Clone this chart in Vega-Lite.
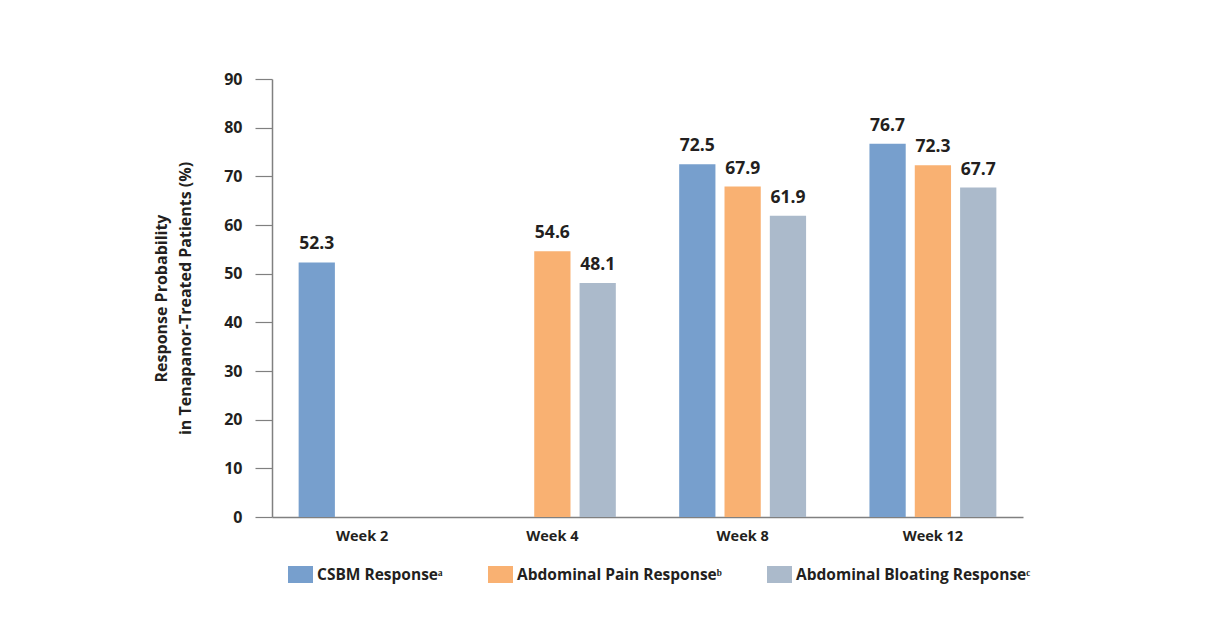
{
  "$schema": "https://vega.github.io/schema/vega-lite/v6.json",
  "width": 751,
  "height": 438,
  "autosize": {"type": "none"},
  "padding": {"left": 272, "top": 79, "right": 207, "bottom": 127},
  "background": "white",
  "config": {
    "font": "Open Sans",
    "view": {"stroke": null}
  },
  "data": {
    "values": [
      {"week": "Week 2", "measure": "CSBM Responseᵃ", "value": 52.3},
      {"week": "Week 4", "measure": "Abdominal Pain Responseᵇ", "value": 54.6},
      {"week": "Week 4", "measure": "Abdominal Bloating Responseᶜ", "value": 48.1},
      {"week": "Week 8", "measure": "CSBM Responseᵃ", "value": 72.5},
      {"week": "Week 8", "measure": "Abdominal Pain Responseᵇ", "value": 67.9},
      {"week": "Week 8", "measure": "Abdominal Bloating Responseᶜ", "value": 61.9},
      {"week": "Week 12", "measure": "CSBM Responseᵃ", "value": 76.7},
      {"week": "Week 12", "measure": "Abdominal Pain Responseᵇ", "value": 72.3},
      {"week": "Week 12", "measure": "Abdominal Bloating Responseᶜ", "value": 67.7}
    ]
  },
  "encoding": {
    "x": {
      "field": "week",
      "type": "nominal",
      "sort": ["Week 2", "Week 4", "Week 8", "Week 12"],
      "scale": {"paddingInner": 0.333, "paddingOuter": 0.14},
      "axis": {
        "title": null,
        "labelAngle": 0,
        "ticks": false,
        "labelFontSize": 14.5,
        "labelFontWeight": "bold",
        "labelColor": "#231f20",
        "labelPadding": 12,
        "domainColor": "#808080",
        "domainWidth": 1.5
      }
    },
    "xOffset": {
      "field": "measure",
      "type": "nominal",
      "scale": {
        "domain": ["CSBM Responseᵃ", "Abdominal Pain Responseᵇ", "Abdominal Bloating Responseᶜ"],
        "paddingInner": 0.2,
        "paddingOuter": 0
      }
    },
    "y": {
      "field": "value",
      "type": "quantitative",
      "scale": {"domain": [0, 90]},
      "axis": {
        "values": [0, 10, 20, 30, 40, 50, 60, 70, 80, 90],
        "grid": false,
        "tickSize": 17,
        "tickColor": "#808080",
        "tickWidth": 1.2,
        "domainColor": "#808080",
        "domainWidth": 1.5,
        "labelFontSize": 16,
        "labelFontWeight": "bold",
        "labelColor": "#231f20",
        "labelPadding": 13,
        "title": ["Response Probability", "in Tenapanor-Treated Patients (%)"],
        "titleFontSize": 16,
        "titleFontWeight": "bold",
        "titleColor": "#231f20",
        "titlePadding": 30,
        "titleLineHeight": 24
      }
    }
  },
  "layer": [
    {
      "mark": {"type": "bar"},
      "encoding": {
        "color": {
          "field": "measure",
          "type": "nominal",
          "scale": {
            "domain": ["CSBM Responseᵃ", "Abdominal Pain Responseᵇ", "Abdominal Bloating Responseᶜ"],
            "range": ["#779fcd", "#f9b172", "#abbacb"]
          },
          "legend": {
            "title": null,
            "orient": "none",
            "direction": "horizontal",
            "legendX": 20,
            "legendY": 487,
            "symbolType": "M-1.47,-1H1.47V1H-1.47Z",
            "symbolSize": 289,
            "symbolStrokeWidth": 0,
            "symbolOpacity": 1,
            "labelFontSize": 15.5,
            "labelFontWeight": "bold",
            "labelColor": "#231f20",
            "labelOffset": 8,
            "labelLimit": 400,
            "columnPadding": 45
          }
        }
      }
    },
    {
      "mark": {
        "type": "text",
        "baseline": "bottom",
        "dy": -9,
        "fontSize": 17.5,
        "fontWeight": "bold",
        "color": "#231f20"
      },
      "encoding": {
        "text": {"field": "value", "type": "quantitative", "format": ".1f"}
      }
    }
  ]
}
